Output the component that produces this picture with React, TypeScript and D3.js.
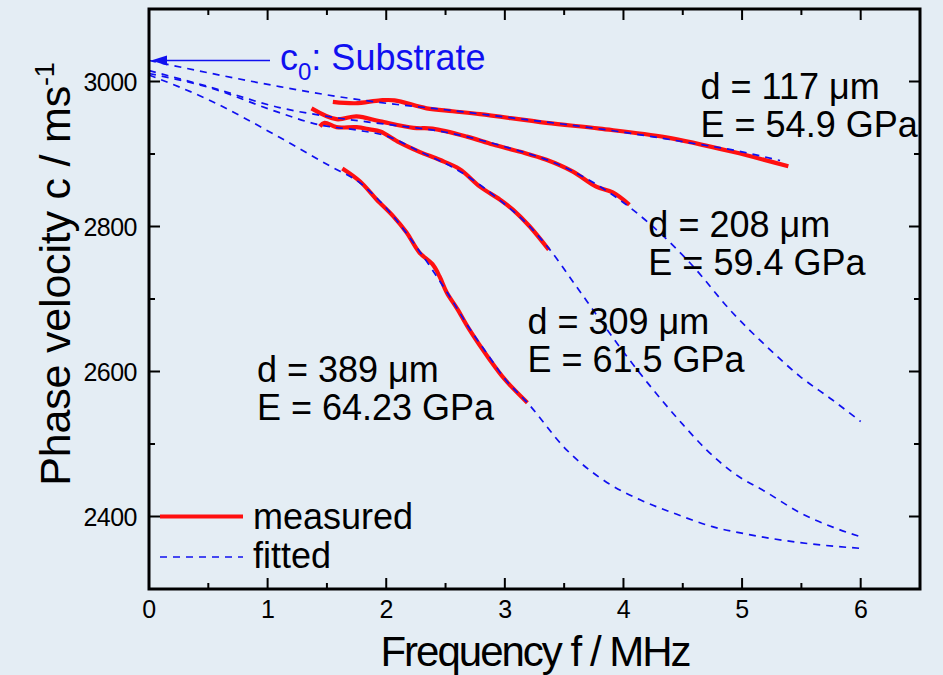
import React from "react";
import * as d3 from "d3";

// ---- data (frequency f in MHz, phase velocity c in m/s) ----
const xTicks = [0, 1, 2, 3, 4, 5, 6];
const yTicks = [2400, 2600, 2800, 3000];
const xMinor = [0.5, 1.5, 2.5, 3.5, 4.5, 5.5, 6.5];
const yMinor = [2300, 2500, 2700, 2900, 3100];

const meas117f = [1.55, 1.74, 1.95, 2.07, 2.34, 2.56, 2.79, 3.35, 3.8, 4.36, 4.92, 5.39];
const meas117c = [2972, 2970, 2974, 2974, 2963, 2959, 2955, 2943, 2935, 2923, 2903, 2883];

const meas208f = [1.37, 1.58, 1.75, 1.95, 2.23, 2.39, 2.68, 2.9, 3.13, 3.35, 3.57, 3.77, 3.91, 4.05];
const meas208c = [2963, 2948, 2952, 2945, 2936, 2935, 2924, 2913, 2903, 2892, 2876, 2855, 2847, 2830];

const meas309f = [1.44, 1.48, 1.58, 1.75, 1.86, 1.95, 2.11, 2.28, 2.45, 2.62, 2.79, 2.96, 3.07, 3.21, 3.37];
const meas309c = [2938, 2943, 2937, 2937, 2934, 2931, 2916, 2903, 2892, 2879, 2855, 2837, 2823, 2800, 2768];

const meas389f = [1.63, 1.78, 1.92, 2.06, 2.17, 2.28, 2.39, 2.45, 2.51, 2.6, 2.7, 2.87, 3.0, 3.19];
const meas389c = [2880, 2862, 2837, 2814, 2792, 2764, 2748, 2731, 2709, 2686, 2658, 2617, 2589, 2557];

const fit117f = [0, 0.5, 1.1, 1.6, 2, 2.5, 3, 3.5, 4, 4.5, 5, 5.32];
const fit117c = [3029, 3012, 2993, 2979, 2970, 2961, 2951, 2941, 2930, 2917, 2903, 2891];

const fit208f = [0, 0.5, 1.1, 1.58, 2, 2.5, 3, 3.5, 4.08, 4.56, 4.92, 5.21, 5.49, 5.76, 6.0];
const fit208c = [3015, 2993, 2964, 2950, 2941, 2930, 2910, 2882, 2823, 2750, 2681, 2634, 2593, 2561, 2531];

const fit309f = [0, 0.5, 1.1, 1.44, 1.75, 2.0, 2.3, 2.62, 2.96, 3.21, 3.37, 3.6, 3.8, 4.0, 4.2, 4.5, 4.7, 4.92, 5.21, 5.49, 5.77, 6.0];
const fit309c = [3011, 2992, 2957, 2940, 2933, 2925, 2902, 2876, 2836, 2800, 2770, 2718, 2672, 2627, 2585, 2527, 2492, 2461, 2433, 2405, 2385, 2372];

const fit389f = [0, 0.5, 1.1, 1.53, 1.78, 2.06, 2.28, 2.51, 2.7, 2.87, 3.0, 3.19, 3.52, 3.86, 4.14, 4.45, 4.75, 5.06, 5.49, 6.0];
const fit389c = [3009, 2975, 2923, 2883, 2860, 2814, 2766, 2710, 2660, 2620, 2590, 2557, 2492, 2447, 2423, 2403, 2386, 2375, 2364, 2356];

const substrateC0 = 3029;

const labels = [
  { d: "d = 117 μm", e: "E = 54.9 GPa", f: 4.65, c: 2976 },
  { d: "d = 208 μm", e: "E = 59.4 GPa", f: 4.21, c: 2786 },
  { d: "d = 309 μm", e: "E = 61.5 GPa", f: 3.19, c: 2652 },
  { d: "d = 389 μm", e: "E = 64.23 GPa", f: 0.91, c: 2585 },
];

const W = 943;
const H = 675;
const BG = "#E4EDF4";
const BLUE = "#1010F0";
const RED = "#FF1010";
const FONT = "'Liberation Sans', Arial, Helvetica, sans-serif";

const x = d3.scaleLinear().domain([0, 6.5]).range([149, 920]);
const y = d3.scaleLinear().domain([2300, 3100]).range([589, 9]);

const zip = (fs: number[], cs: number[]) => fs.map((f, i) => [f, cs[i]] as [number, number]);

const measLine = d3
  .line<[number, number]>()
  .x((d) => x(d[0]))
  .y((d) => y(d[1]))
  .curve(d3.curveCatmullRom.alpha(0.5));
const fitLine = d3
  .line<[number, number]>()
  .x((d) => x(d[0]))
  .y((d) => y(d[1]))
  .curve(d3.curveMonotoneX);

const measured = [zip(meas117f, meas117c), zip(meas208f, meas208c), zip(meas309f, meas309c), zip(meas389f, meas389c)];
const fitted = [zip(fit117f, fit117c), zip(fit208f, fit208c), zip(fit309f, fit309c), zip(fit389f, fit389c)];

export default function App() {
  const [x0, x1] = x.range();
  const [y0, y1] = y.range();
  const majorLen = 11;
  const minorLen = 6;
  const arrowY = y(substrateC0);
  return (
    <svg width={W} height={H} style={{ position: "absolute", left: 0, top: 0, background: BG }} fontFamily={FONT}>
      <rect x={0} y={0} width={W} height={H} fill={BG} />
      {/* data */}
      {measured.map((m, i) => (
        <path key={"m" + i} d={measLine(m) || ""} fill="none" stroke={RED} strokeWidth={4.2} strokeLinecap="butt" />
      ))}
      {fitted.map((m, i) => (
        <path key={"f" + i} d={fitLine(m) || ""} fill="none" stroke={BLUE} strokeWidth={1.7} strokeDasharray="7,6" />
      ))}
      {/* ticks */}
      {xTicks.map((t) => (
        <g key={"xt" + t}>
          <line x1={x(t)} x2={x(t)} y1={y0} y2={y0 - majorLen} stroke="#000" strokeWidth={2} />
          <line x1={x(t)} x2={x(t)} y1={y1} y2={y1 + majorLen} stroke="#000" strokeWidth={2} />
          <text x={x(t)} y={618} fontSize={25} textAnchor="middle" letterSpacing={-0.5} fill="#000">
            {t}
          </text>
        </g>
      ))}
      {xMinor.map((t) => (
        <g key={"xm" + t}>
          <line x1={x(t)} x2={x(t)} y1={y0} y2={y0 - minorLen} stroke="#000" strokeWidth={2} />
          <line x1={x(t)} x2={x(t)} y1={y1} y2={y1 + minorLen} stroke="#000" strokeWidth={2} />
        </g>
      ))}
      {yTicks.map((t) => (
        <g key={"yt" + t}>
          <line x1={x0} x2={x0 + majorLen} y1={y(t)} y2={y(t)} stroke="#000" strokeWidth={2} />
          <line x1={x1} x2={x1 - majorLen} y1={y(t)} y2={y(t)} stroke="#000" strokeWidth={2} />
          <text x={137} y={y(t) + 9} fontSize={25} textAnchor="end" letterSpacing={-0.5} fill="#000">
            {t}
          </text>
        </g>
      ))}
      {yMinor.map((t) => (
        <g key={"ym" + t}>
          <line x1={x0} x2={x0 + minorLen} y1={y(t)} y2={y(t)} stroke="#000" strokeWidth={2} />
          <line x1={x1} x2={x1 - minorLen} y1={y(t)} y2={y(t)} stroke="#000" strokeWidth={2} />
        </g>
      ))}
      {/* frame */}
      <rect x={x0} y={y1} width={x1 - x0} height={y0 - y1} fill="none" stroke="#000" strokeWidth={3} />
      {/* annotations */}
      {labels.map((l, i) => (
        <g key={"l" + i} fontSize={36} fill="#000">
          <text x={x(l.f)} y={y(l.c)}>{l.d}</text>
          <text x={x(l.f)} y={y(l.c) + 38}>{l.e}</text>
        </g>
      ))}
      {/* substrate arrow */}
      <line x1={270} x2={162} y1={arrowY} y2={arrowY} stroke={BLUE} strokeWidth={1.5} />
      <path d={`M${x0 + 2},${arrowY} L${x0 + 18},${arrowY - 5} L${x0 + 18},${arrowY + 5} Z`} fill={BLUE} />
      <text x={280} y={arrowY + 10} fontSize={36} fill={BLUE}>
        c<tspan fontSize={24} dy={10}>0</tspan>
        <tspan dy={-10}>: Substrate</tspan>
      </text>
      {/* legend */}
      <line x1={160} x2={243} y1={y(2400)} y2={y(2400)} stroke={RED} strokeWidth={4.2} />
      <text x={253} y={529} fontSize={36} fill="#000">measured</text>
      <line x1={160} x2={243} y1={557} y2={557} stroke={BLUE} strokeWidth={1.7} strokeDasharray="7,6" />
      <text x={253} y={568} fontSize={36} fill="#000">fitted</text>
      {/* axis titles */}
      <text x={535} y={666} fontSize={42} textAnchor="middle" letterSpacing={-2} fill="#000">
        Frequency f / MHz
      </text>
      <text transform={`translate(70,274) rotate(-90)`} fontSize={43} textAnchor="middle" letterSpacing={-0.2} fill="#000">
        Phase velocity c / ms<tspan fontSize={27} dy={-16}>-1</tspan>
      </text>
    </svg>
  );
}
